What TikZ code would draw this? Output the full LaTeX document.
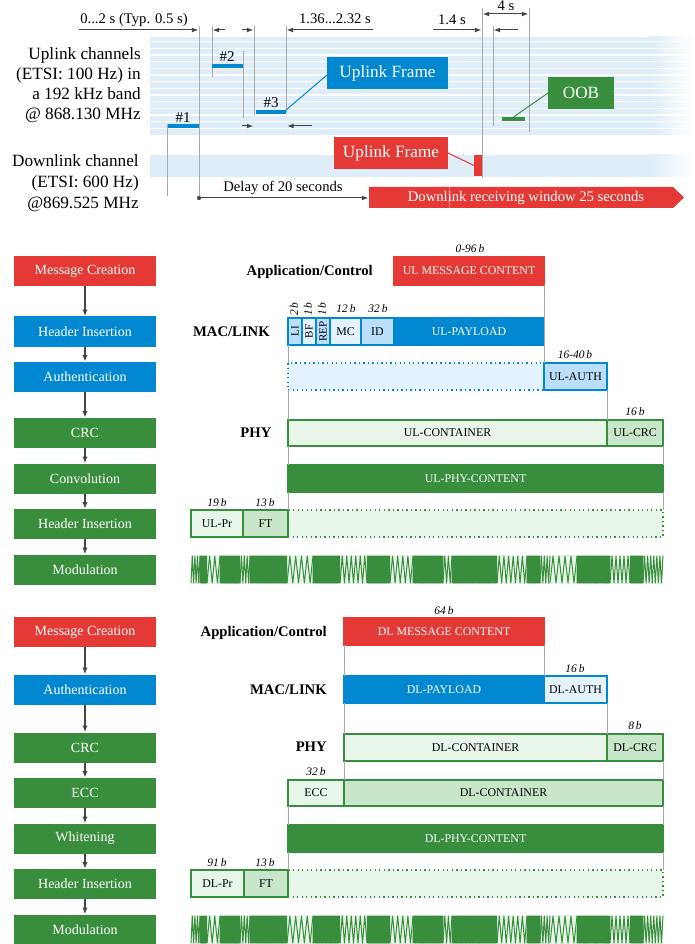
\documentclass[tikz,border=0pt]{standalone}
\usepackage{fontspec}
\setmainfont{Liberation Serif}
\usepackage{graphicx}
\usetikzlibrary{arrows.meta}
\definecolor{cred}{RGB}{229,57,53}
\definecolor{cblue}{RGB}{2,136,209}
\definecolor{cgreen}{RGB}{56,142,60}
\definecolor{lgreen}{RGB}{232,245,233}
\definecolor{mgreen}{RGB}{200,230,201}
\definecolor{lblue}{RGB}{227,242,253}
\definecolor{mblue}{RGB}{187,222,251}
\definecolor{band}{RGB}{222,237,248}
\definecolor{glc}{RGB}{170,170,170}
\definecolor{darr}{RGB}{68,68,68}
\newcommand\myfs[1]{\fontsize{#1}{#1}\selectfont}
\newcommand\bx[7]{\node[bx,#6,minimum width={(#4-(#2))*0.75pt},minimum height={(#5-(#3))*0.75pt}] (#1) at ({(#2+#4)/2},{(#3+#5)/2}) {#7};}
\newcommand\wave[1]{%
  \fill[lgreen] (191,{#1-14.5}) rectangle (663,{#1+14.5});
  \foreach \xa/\xb/\pp in {191/200/2.5,200/207/1.0,207/220/5,220/240/1.0,240/250/3,250/287/0.9,287/313/6,313/340/0.9,340/367/4.5,367/390/1.0,390/413/5,413/443/0.9,443/452/4,452/497/0.9,497/527/4.5,527/540/0.9,540/550/3,550/577/6,577/610/0.9,610/630/4,630/643/0.9,643/663/3}{%
    \pgfmathtruncatemacro\nn{max(1,round(2*(\xb-\xa)/\pp))}%
    \pgfmathtruncatemacro\ns{\nn+1}%
    \draw[cgreen,line width=0.75pt,line join=round] plot[domain=0:\nn,samples=\ns] ({\xa+\x*(\xb-\xa)/\nn},{#1+13.5*(1-2*mod(round(\x),2))});
  }}
\begin{document}
\begin{tikzpicture}[x=0.75pt,y=-0.75pt,
  gl/.style={draw=glc,line width=0.75pt},
  dimarr/.style={draw=darr,line width=0.75pt,-{Latex[length=5pt,width=3.6pt]}},
  lab/.style={font=\myfs{11},inner sep=0pt,anchor=base},
  chl/.style={font=\myfs{12.9},inner sep=0pt,anchor=base east},
  stepbox/.style={minimum width={142*0.75pt},minimum height={30*0.75pt},inner sep=0pt,text=white,font=\myfs{10.5}},
  flow/.style={draw=darr,line width=1.1pt,-{Latex[length=5pt,width=4pt]}},
  bx/.style={inner sep=0pt,outer sep=0pt,font=\myfs{8.9},line width=1.1pt},
  dotline/.style={dash pattern=on 1pt off 2.4pt},
  hdr/.style={font=\myfs{11}\bfseries,inner sep=0pt,anchor=base east},
  bits/.style={font=\myfs{8.6}\itshape,inner sep=0pt,anchor=base},
  big/.style={text=white,font=\myfs{12.9}}]
\useasboundingbox (0,0) rectangle (694,944);

% ---------- top: channels ----------
\fill[band] (150,37) rectangle (650,135);
\shade[left color=band,right color=white] (650,37) rectangle (694,135);
\foreach \k in {0,...,13} \draw[white,line width=1pt] (150,{41.6+6.67*\k}) -- (694,{41.6+6.67*\k});
\fill[band] (150,155) rectangle (650,177);
\shade[left color=band,right color=white] (650,155) rectangle (694,177);

\node[chl] (c1) at (141,60) {Uplink channels};
\node[chl] (c2) at (141,80) {(ETSI: 100 Hz) in};
\node[chl] (c3) at (141,100) {a 192 kHz band};
\node[chl] (c4) at (141,120) {@ 868.130 MHz};
\node[chl] (c5) at (139,166.7) {Downlink channel};
\node[chl] (c6) at (139,188) {(ETSI: 600 Hz)};
\node[chl] (c7) at (139,208.5) {@869.525 MHz};

% vertical guide lines
\draw[gl] (199,26) -- (199,198);
\draw[gl] (167,124) -- (167,196);
\draw[gl] (212,26) -- (212,77);
\draw[gl] (243,51) -- (243,118);
\draw[gl] (254,26) -- (254,115);
\draw[gl] (286,26) -- (286,112);
\draw[gl] (482,8) -- (482,178);
\draw[gl] (493,26) -- (493,126);
\draw[gl] (529,8) -- (529,132);

% dimension arrows
\node[lab] (t01) at (134,24) {0...2 s (Typ. 0.5 s)};
\draw[dimarr] (79,30) -- (198.5,30);
\draw[dimarr] (225,30) -- (212.5,30);
\draw[dimarr] (242,30) -- (253.5,30);
\node[lab] (t02) at (335,24) {1.36...2.32 s};
\node[lab] (t03) at (452,25) {1.4 s};
\draw[dimarr] (373,30) -- (286.5,30);
\draw[dimarr] (433,30) -- (481.5,30);
\draw[dimarr] (518,30) -- (493.5,30);
\node[lab] (t04) at (506,10.5) {4 s};
\draw[dimarr,{Latex[length=5pt,width=3.6pt]}-{Latex[length=5pt,width=3.6pt]}] (482.5,14) -- (528.5,14);
\draw[dimarr] (242,126) -- (253.5,126);
\draw[dimarr] (312,126) -- (287,126);

% bursts
\bx{b1}{168}{124}{199}{128.5}{fill=cblue}{}
\bx{b2}{212}{64}{243}{68.5}{fill=cblue}{}
\bx{b3}{256}{110}{286}{114.5}{fill=cblue}{}
\bx{oobbar}{502}{117}{525}{121.5}{fill=cgreen}{}
\bx{rbar}{474}{155}{482}{176}{fill=cred}{}
\node[lab,font=\myfs{11.25}] (n1) at (183,122.5) {\#1};
\node[lab,font=\myfs{11.25}] (n2) at (227,61.5) {\#2};
\node[lab,font=\myfs{11.25}] (n3) at (271,108) {\#3};

\bx{ufb}{327}{57}{448}{89}{fill=cblue,big}{Uplink Frame}
\bx{ufr}{334}{137}{448}{169}{fill=cred,big}{Uplink Frame}
\bx{oob}{548}{77}{614}{109}{fill=cgreen,big}{OOB}
\draw[cblue,line width=0.75pt] ([yshift=-1.5pt]ufb.west) -- (b3.north east);
\draw[cgreen,line width=0.75pt] (oob.west) -- (oobbar.north);
\draw[cred,line width=0.75pt] (ufr.east) -- (rbar.west);

% delay and receive window
\fill[darr] (199,198) circle[radius=1.6pt];
\coordinate (dstart) at (199,198);
\fill[cred] (369,187) -- (673,187) -- (684,197.5) -- (673,208) -- (369,208) -- cycle;
\coordinate (dend) at (368.5,198);
\draw[dimarr] (dstart) -- (dend);
\draw[white,opacity=0.35,line width=0.5pt] (449,187) -- (449,208);
\node[inner sep=0pt,text=white,font=\myfs{11}] (dlw) at (526,197.5) {Downlink receiving window 25 seconds};
\node[lab] (dly) at (283,191.7) {Delay of 20 seconds};

% ---------- uplink stack ----------
\node[stepbox,fill=cred] (u1) at (85,271) {Message Creation};
\node[stepbox,fill=cblue] (u2) at (85,331.5) {Header Insertion};
\node[stepbox,fill=cblue] (u3) at (85,377) {Authentication};
\node[stepbox,fill=cgreen] (u4) at (85,433) {CRC};
\node[stepbox,fill=cgreen] (u5) at (85,478.5) {Convolution};
\node[stepbox,fill=cgreen] (u6) at (85,524) {Header Insertion};
\node[stepbox,fill=cgreen] (u7) at (85,569.5) {Modulation};
\draw[flow] (u1) -- (u2);
\draw[flow] (u2) -- (u3);
\draw[flow] (u3) -- (u4);
\draw[flow] (u4) -- (u5);
\draw[flow] (u5) -- (u6);
\draw[flow] (u6) -- (u7);

\node[hdr] (ulh1) at (373,276) {Application/Control};
\bx{ulmsg}{394}{257}{544}{285}{fill=cred,draw=cred,text=white}{UL MESSAGE CONTENT}
\node[bits] (ulb1) at (470,252.7) {0-96\,b};
\node[hdr] (ulh2) at (270,336) {MAC/LINK};
\bx{li}{288}{318}{302}{345}{fill=mblue,draw=cblue,font=\myfs{8.3}}{\rotatebox{90}{LI}}
\bx{bf}{302}{318}{316}{345}{fill=lblue,draw=cblue,font=\myfs{8.3}}{\rotatebox{90}{BF}}
\bx{rep}{316}{318}{330}{345}{fill=mblue,draw=cblue,font=\myfs{8.3}}{\rotatebox{90}{REP}}
\bx{mc}{330}{318}{361}{345}{fill=lblue,draw=cblue}{MC}
\bx{id}{361}{318}{394}{345}{fill=mblue,draw=cblue}{ID}
\bx{ulpay}{394}{318}{544}{345}{fill=cblue,draw=cblue,text=white}{UL-PAYLOAD}
\node[bits,rotate=90,anchor=center] (ulb2) at (294,309) {2\,b};
\node[bits,rotate=90,anchor=center] (ulb3) at (308,309) {1\,b};
\node[bits,rotate=90,anchor=center] (ulb4) at (322,309) {1\,b};
\node[bits] (ulb5) at (346,312.7) {12\,b};
\node[bits] (ulb6) at (378,312.7) {32\,b};
\bx{ulauthrow}{288}{363}{544}{390}{fill=lblue,draw=cblue,dotline}{}
\bx{ulauth}{544}{363}{607}{390}{fill=mblue,draw=cblue}{UL-AUTH}
\node[bits] (ulb7) at (575,358.7) {16-40\,b};
\node[hdr] (ulh3) at (271.7,437.3) {PHY};
\bx{ulcont}{288}{420}{607}{446}{fill=lgreen,draw=cgreen}{UL-CONTAINER}
\bx{ulcrc}{607}{420}{663}{446}{fill=mgreen,draw=cgreen}{UL-CRC}
\node[bits] (ulb8) at (635,415.6) {16\,b};
\bx{ulphy}{288}{465}{663}{492}{fill=cgreen,draw=cgreen,text=white}{UL-PHY-CONTENT}
\bx{uldot}{288}{510}{663}{537}{fill=lgreen,draw=cgreen,dotline}{}
\bx{ulpr}{191}{510}{243}{537}{fill=lgreen,draw=cgreen}{UL-Pr}
\bx{ulft}{243}{510}{288}{537}{fill=mgreen,draw=cgreen}{FT}
\node[bits] (ulb9) at (217,506) {19\,b};
\node[bits] (ulb10) at (265,506) {13\,b};
\wave{569.5}
\draw[gl] (ulmsg.south east) -- (ulauth.north west);
\draw[gl] (li.south west) -- (ulauthrow.north west);
\draw[gl] (ulauthrow.south west) -- (ulcont.north west);
\draw[gl] (ulcont.south west) -- (ulphy.north west);
\draw[gl] (ulphy.south west) -- (uldot.north west);
\draw[gl] (ulauth.south east) -- (ulcrc.north west);
\draw[gl] (ulcrc.south east) -- (ulphy.north east);
\draw[gl] (ulphy.south east) -- (uldot.north east);

% ---------- downlink stack ----------
\node[stepbox,fill=cred] (d1) at (85,632) {Message Creation};
\node[stepbox,fill=cblue] (d2) at (85,689.5) {Authentication};
\node[stepbox,fill=cgreen] (d3) at (85,747.5) {CRC};
\node[stepbox,fill=cgreen] (d4) at (85,793) {ECC};
\node[stepbox,fill=cgreen] (d5) at (85,838.5) {Whitening};
\node[stepbox,fill=cgreen] (d6) at (85,884) {Header Insertion};
\node[stepbox,fill=cgreen] (d7) at (85,929.5) {Modulation};
\draw[flow] (d1) -- (d2);
\draw[flow] (d2) -- (d3);
\draw[flow] (d3) -- (d4);
\draw[flow] (d4) -- (d5);
\draw[flow] (d5) -- (d6);
\draw[flow] (d6) -- (d7);

\node[hdr] (dlh1) at (327,636.7) {Application/Control};
\bx{dlmsg}{344}{618}{544}{645}{fill=cred,draw=cred,text=white}{DL MESSAGE CONTENT}
\node[bits] (dlb1) at (444,614) {64\,b};
\node[hdr] (dlh2) at (327,694.3) {MAC/LINK};
\bx{dlpay}{344}{676}{544}{703}{fill=cblue,draw=cblue,text=white}{DL-PAYLOAD}
\bx{dlauth}{544}{676}{607}{703}{fill=lblue,draw=cblue}{DL-AUTH}
\node[bits] (dlb2) at (575,672.7) {16\,b};
\node[hdr] (dlh3) at (327,751.7) {PHY};
\bx{dlcont}{344}{734}{607}{761}{fill=lgreen,draw=cgreen}{DL-CONTAINER}
\bx{dlcrc}{607}{734}{663}{761}{fill=mgreen,draw=cgreen}{DL-CRC}
\node[bits] (dlb3) at (635,729.3) {8\,b};
\bx{ecc}{288}{780}{344}{806}{fill=lgreen,draw=cgreen}{ECC}
\bx{dlcont2}{344}{780}{663}{806}{fill=mgreen,draw=cgreen}{DL-CONTAINER}
\node[bits] (dlb4) at (316,775) {32\,b};
\bx{dlphy}{288}{825}{663}{852}{fill=cgreen,draw=cgreen,text=white}{DL-PHY-CONTENT}
\bx{dldot}{288}{870}{663}{897}{fill=lgreen,draw=cgreen,dotline}{}
\bx{dlpr}{191}{870}{244}{897}{fill=lgreen,draw=cgreen}{DL-Pr}
\bx{dlft}{244}{870}{288}{897}{fill=mgreen,draw=cgreen}{FT}
\node[bits] (dlb5) at (217,866) {91\,b};
\node[bits] (dlb6) at (265,866) {13\,b};
\wave{929.5}
\draw[gl] (dlmsg.south west) -- (dlpay.north west);
\draw[gl] (dlmsg.south east) -- (dlauth.north west);
\draw[gl] (dlpay.south west) -- (dlcont.north west);
\draw[gl] (dlauth.south east) -- (dlcrc.north west);
\draw[gl] (dlcont.south west) -- (dlcont2.north west);
\draw[gl] (dlcrc.south east) -- (dlcont2.north east);
\draw[gl] (dlcont2.south east) -- (dlphy.north east);
\draw[gl] (dlphy.south east) -- (dldot.north east);
\draw[gl] (ecc.south west) -- (dlphy.north west);
\draw[gl] (dlphy.south west) -- (dldot.north west);
\end{tikzpicture}
\end{document}
